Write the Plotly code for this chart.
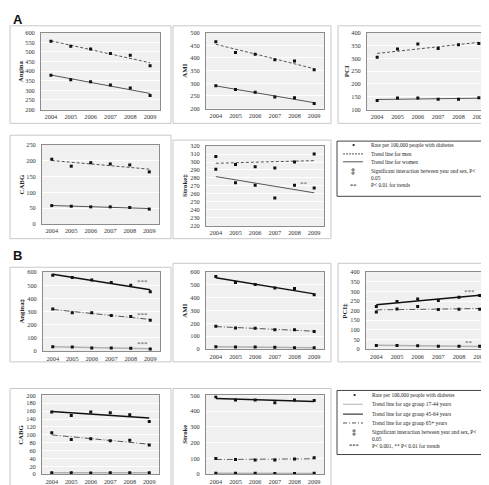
import plotly.graph_objects as go
import numpy as np

W, H = 489, 485
years = ["2004", "2005", "2006", "2007", "2008", "2009"]

# ---- Panel A: by sex ----
a_angina_men = [555, 530, 515, 492, 483, 428]
a_angina_women = [378, 355, 345, 328, 312, 273]
a_ami_men = [464, 422, 415, 393, 388, 354]
a_ami_women = [290, 275, 265, 246, 243, 220]
a_pci_men = [304, 336, 356, 338, 353, 358]
a_pci_women = [135, 145, 145, 140, 140, 146]
a_cabg_men = [205, 183, 194, 190, 187, 165]
a_cabg_women = [58, 56, 54, 54, 52, 47]
a_stroke_men = [307, 297, 294, 292.5, 300, 310]
a_stroke_women = [291, 274, 271, 255, 271, 267.5]

# ---- Panel B: by age group ----
b_angina_17_44 = [32, 30, 24, 24, 22, 16]
b_angina_45_64 = [576, 560, 540, 522, 500, 451]
b_angina_65 = [319, 292, 292, 270, 262, 235]
b_ami_17_44 = [19, 16, 16, 14, 11, 11]
b_ami_45_64 = [567, 519, 503, 476, 473, 424]
b_ami_65 = [178, 165, 162, 151, 151, 138]
b_pci_17_44 = [19, 19, 17, 15, 15, 14]
b_pci_45_64 = [222, 248, 260, 253, 269, 279]
b_pci_65 = [193, 209, 221, 206, 207, 207]
b_cabg_17_44 = [4, 4, 3, 4, 4, 4]
b_cabg_45_64 = [158, 149, 158, 156, 151, 134]
b_cabg_65 = [105, 88, 90, 85, 86, 74]
b_stroke_17_44 = [7, 6, 6, 5, 5, 6]
b_stroke_45_64 = [491, 470, 470, 454, 470, 467]
b_stroke_65 = [100, 93, 91, 91, 96, 104]

SERIF = "Liberation Serif"
xi = list(range(len(years)))

sty = {
    "men": dict(color="#555555", width=1, dash="3px,2px"),
    "women": dict(color="#555555", width=1, dash="solid"),
    "young": dict(color="#b0b0b0", width=1.5, dash="solid"),
    "mid": dict(color="#111111", width=1.5, dash="solid"),
    "old": dict(color="#555555", width=1, dash="6px,2px,1px,2px"),
}

panels = [
    ("Angina", (33, 21, 152, 99), (2, 14, 163, 113), (200, 600), 50,
     [(a_angina_men, "men"), (a_angina_women, "women")], []),
    ("AMI", (198, 21, 316, 98), (165, 14, 323, 113), (200, 500), 50,
     [(a_ami_men, "men"), (a_ami_women, "women")], []),
    ("PCI", (359, 21, 481, 99), (330, 14, 486, 113), (100, 400), 50,
     [(a_pci_men, "men"), (a_pci_women, "women")], []),
    ("CABG", (34, 135, 151, 215), (2, 125, 163, 230), (0, 250), 50,
     [(a_cabg_men, "men"), (a_cabg_women, "women")], []),
    ("Stroke‡", (198, 136, 316, 217), (165, 130, 323, 230), (220, 320), 10,
     [(a_stroke_men, "men"), (a_stroke_women, "women")], [(4.5, 273, "**")]),
    ("Angina‡", (35, 264, 152, 344), (2, 259, 163, 355), (0, 600), 100,
     [(b_angina_17_44, "young"), (b_angina_45_64, "mid"), (b_angina_65, "old")],
     [(4.6, 527, "***"), (4.6, 273, "***"), (4.6, 54, "***")]),
    ("AMI", (198, 264, 316, 342), (165, 255, 323, 355), (0, 600), 100,
     [(b_ami_17_44, "young"), (b_ami_45_64, "mid"), (b_ami_65, "old")], []),
    ("PCI‡", (358, 264, 482, 342), (330, 255, 486, 355), (0, 400), 50,
     [(b_pci_17_44, "young"), (b_pci_45_64, "mid"), (b_pci_65, "old")],
     [(4.5, 298, "***"), (4.5, 32, "**")]),
    ("CABG", (34, 389, 151, 469), (2, 382, 163, 484), (0, 200), 20,
     [(b_cabg_17_44, "young"), (b_cabg_45_64, "mid"), (b_cabg_65, "old")], []),
    ("Stroke", (198, 389, 316, 469), (165, 382, 323, 484), (0, 500), 100,
     [(b_stroke_17_44, "young"), (b_stroke_45_64, "mid"), (b_stroke_65, "old")], []),
]

def px(x):
    return x / W

def py(y):
    return 1 - y / H

TICKF = dict(family=SERIF, size=6.3, color="#333")

fig = go.Figure()
shapes = []
annotations = []
layout = {}

for i, (title, pb, ob, yr, dt, series, stars) in enumerate(panels):
    n = i + 1
    xa = "x" if n == 1 else f"x{n}"
    ya = "y" if n == 1 else f"y{n}"
    xkey = "xaxis" if n == 1 else f"xaxis{n}"
    ykey = "yaxis" if n == 1 else f"yaxis{n}"
    x0, y0, x1, y1 = pb
    layout[xkey] = dict(
        domain=[px(x0), px(x1)], anchor=ya, range=[-0.5, 5.5],
        tickvals=xi, ticktext=years, showgrid=False, zeroline=False,
        showline=True, mirror=True, linecolor="#8c8c8c", linewidth=1,
        ticks="", tickfont=TICKF, ticklabelstandoff=1, fixedrange=True,
    )
    layout[ykey] = dict(
        domain=[py(y1), py(y0)], anchor=xa, range=list(yr), dtick=dt,
        tick0=yr[0], showgrid=True, gridcolor="#ffffff", gridwidth=1,
        zeroline=False, showline=True, mirror=True, linecolor="#8c8c8c",
        linewidth=1, ticks="", tickfont=TICKF, ticklabelstandoff=4,
        fixedrange=True,
    )
    shapes.append(dict(type="rect", xref="paper", yref="paper",
                       x0=px(ob[0]), x1=px(ob[2]), y0=py(ob[3]), y1=py(ob[1]),
                       line=dict(color="#c8c8c8", width=1), layer="below"))
    annotations.append(dict(xref="paper", yref="paper", x=px(x0 - 21),
                            y=py((y0 + y1) / 2), text=f"<b>{title}</b>",
                            textangle=-90, showarrow=False,
                            font=dict(family=SERIF, size=6.8, color="#222"),
                            xanchor="center", yanchor="middle"))
    for vals, key in series:
        k, b = np.polyfit(xi, vals, 1)
        trend = [k * x + b for x in xi]
        fig.add_trace(go.Scatter(x=[xi[0], xi[-1]], y=[trend[0], trend[-1]],
                                 mode="lines", line=sty[key], xaxis=xa, yaxis=ya,
                                 showlegend=False, hoverinfo="skip"))
        fig.add_trace(go.Scatter(x=xi, y=vals, mode="markers",
                                 marker=dict(color="#111", size=3, symbol="square"),
                                 xaxis=xa, yaxis=ya, showlegend=False))
    for sx, sy, st in stars:
        annotations.append(dict(xref=xa, yref=ya, x=sx, y=sy, text=st,
                                showarrow=False, font=dict(family=SERIF, size=7, color="#555")))

for lab, yy in (("A", 8), ("B", 247)):
    annotations.append(dict(xref="paper", yref="paper", x=px(3), y=py(yy), text=f"<b>{lab}</b>",
                            showarrow=False, xanchor="left", yanchor="middle",
                            font=dict(family="Liberation Sans", size=13, color="#111")))

LF = dict(family=SERIF, size=5.4, color="#222")

def legend_text(x, y, t):
    annotations.append(dict(xref="paper", yref="paper", x=px(x), y=py(y), text=t,
                            showarrow=False, xanchor="left", yanchor="middle", font=LF))

def legend_sym(x, y, t, size=7):
    annotations.append(dict(xref="paper", yref="paper", x=px(x), y=py(y), text=t,
                            showarrow=False, xanchor="center", yanchor="middle",
                            font=dict(family=SERIF, size=size, color="#222")))

def legend_line(y, st):
    shapes.append(dict(type="line", xref="paper", yref="paper", x0=px(335), x1=px(355),
                       y0=py(y), y1=py(y), line=st))

# Legend A
shapes.append(dict(type="rect", xref="paper", yref="paper", x0=px(329), x1=px(484),
                   y0=py(187), y1=py(131), line=dict(color="#444", width=1)))
legend_sym(345, 135, "•", 9)
legend_text(361, 135, "Rate per 100,000 people with diabetes")
legend_line(144, dict(color="#555", width=1, dash="2px,1px"))
legend_text(361, 144, "Trend line for men")
legend_line(152, dict(color="#555", width=1))
legend_text(361, 152, "Trend line for women")
legend_sym(345, 162, "<b>‡</b>", 8)
legend_text(361, 161, "Significant interaction between year and sex, P<")
legend_text(361, 168, "0.05")
legend_sym(345, 176, "**", 6.5)
legend_text(361, 176, "P< 0.01 for trends")

# Legend B
shapes.append(dict(type="rect", xref="paper", yref="paper", x0=px(329), x1=px(484),
                   y0=py(449), y1=py(384), line=dict(color="#444", width=1)))
legend_sym(346, 389, "•", 9)
legend_text(362, 389, "Rate per 100,000 people with diabetes")
legend_line(398, dict(color="#b0b0b0", width=1))
legend_text(362, 398, "Trend line for age group 17-44 years")
legend_line(408, dict(color="#111", width=1))
legend_text(362, 408, "Trend line for age group 45-64 years")
legend_line(417, dict(color="#555", width=1, dash="4px,2px,1px,2px"))
legend_text(362, 417, "Trend line for age group 65+ years")
legend_sym(346, 427, "<b>‡</b>", 8)
legend_text(362, 426, "Significant interaction between year and sex, P<")
legend_text(362, 433, "0.05")
legend_sym(346, 440, "***", 6.5)
legend_text(362, 440, "P< 0.001, ** P< 0.01 for trends")

fig.update_layout(
    width=W, height=H, margin=dict(l=0, r=0, t=0, b=0),
    paper_bgcolor="white", plot_bgcolor="#f0f0f0",
    shapes=shapes, annotations=annotations, showlegend=False,
    **layout,
)
fig.write_html("out.html")
